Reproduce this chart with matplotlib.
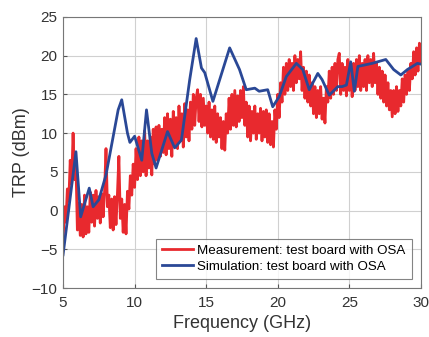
import numpy as np
import matplotlib
matplotlib.use('Agg')
import matplotlib.pyplot as plt

meas_trp = [
    -3.8, 0.5, -1.5, 2.8, 1.2, 6.5, 3.5, 10.0, 4.0, 6.0,
    -2.5, 1.0, -3.2, 0.8, -3.4, 2.0, -3.0, 0.5, -2.8, 2.4,
    -1.5, 2.0, -2.0, 2.6, -1.0, 1.8, -1.6, 2.2, -0.8, 2.5,
    8.0, 0.5, 2.0, -2.2, 1.5, -2.5, 1.8, -1.8, 2.2, 7.0,
    -1.0, 1.5, -2.8, 0.8, -3.0, 2.5, 0.2, 4.5, 2.0, 6.0,
    3.0, 8.0, 4.0, 9.5, 4.5, 9.0, 5.0, 10.3, 4.5, 9.0,
    5.5, 9.5, 4.6, 10.5, 6.0, 10.8, 6.5, 11.0, 7.0, 10.5,
    7.5, 12.0, 7.2, 12.5, 8.0, 11.8, 7.0, 12.8, 8.5, 12.0,
    8.0, 13.5, 9.0, 12.5, 8.2, 13.8, 9.5, 13.0, 9.0, 14.0,
    10.5, 15.0, 11.0, 14.5, 15.6, 11.5, 15.0, 10.8, 14.5, 11.0,
    13.5, 10.0, 14.0, 9.5, 13.0, 9.2, 13.5, 8.8, 12.5, 9.5,
    12.0, 8.0, 11.5, 7.8, 12.5, 10.0, 14.5, 10.5, 15.0, 11.0,
    15.5, 10.8, 14.8, 11.5, 15.5, 12.0, 16.0, 11.0, 14.0, 9.5,
    13.5, 9.0, 12.8, 10.0, 13.5, 9.2, 12.5, 10.0, 13.2, 9.0,
    12.8, 9.5, 13.0, 8.8, 12.5, 8.5, 11.5, 8.2, 13.0, 10.5,
    15.0, 12.0, 16.5, 14.0, 18.5, 15.0, 19.0, 15.5, 19.5, 16.0,
    19.0, 15.5, 20.0, 16.5, 19.5, 17.0, 20.5, 15.5, 18.5, 14.5,
    18.0, 14.0, 17.5, 13.5, 16.5, 12.5, 16.0, 12.0, 15.5, 12.5,
    16.0, 11.8, 14.5, 11.3, 16.0, 14.0, 18.0, 14.5, 18.5, 15.0,
    19.0, 15.5, 19.5, 20.3, 15.0, 19.0, 15.5, 18.5, 14.8, 19.5,
    15.5, 18.0, 14.7, 19.0, 15.5, 19.5, 16.0, 20.0, 15.5, 19.0,
    16.0, 19.5, 15.5, 20.0, 16.5, 19.5, 16.0, 20.3, 16.5, 19.0,
    15.0, 18.5, 14.5, 18.0, 14.0, 17.5, 13.5, 16.5, 13.0, 15.5,
    12.1, 15.5, 12.5, 16.0, 12.8, 15.5, 13.5, 17.0, 14.0, 17.5,
    15.0, 18.0, 15.5, 19.0, 17.0, 20.5, 17.5, 21.0, 18.0, 21.6,
    19.0,
]
meas_freq = np.linspace(5, 30, len(meas_trp))

# Simulated TRP
sim_freq = [5.0, 5.9, 6.23, 6.83, 7.1, 7.5, 8.0, 8.85, 9.1, 9.5,
            9.67, 10.0, 10.5, 10.83, 11.2, 11.5, 12.3, 12.8, 13.27, 13.85,
            14.3, 14.67, 14.9, 15.47, 16.64, 17.33, 17.8, 18.4, 18.7, 19.3,
            19.65, 20.1, 20.6, 21.3, 21.75, 22.2, 22.8, 23.1, 23.6, 24.2,
            24.5, 24.8, 25.1, 25.35, 25.6, 26.6, 27.55, 28.1, 28.6, 29.06,
            29.76, 30.0]
sim_trp = [-5.7, 7.6, -0.8, 2.9, 0.5, 1.4, 4.6, 13.0, 14.3, 10.0,
           8.8, 9.6, 6.5, 13.0, 7.4, 5.5, 10.2, 8.1, 9.1, 16.9,
           22.2, 18.4, 17.8, 14.1, 21.0, 18.2, 15.6, 15.8, 15.4, 15.6,
           13.4, 14.7, 17.3, 19.0, 18.2, 15.6, 17.7, 16.9, 14.9, 16.0,
           16.0, 16.2, 19.2, 15.4, 18.6, 19.0, 19.5, 18.2, 17.5, 18.2,
           19.0, 18.9]

xticks = [5, 10, 15, 20, 25, 30]
yticks = [-10, -5, 0, 5, 10, 15, 20, 25]

plt.rcParams['font.family'] = ['Liberation Sans', 'DejaVu Sans']

fig = plt.figure(figsize=(4.29, 3.37), dpi=100)
ax = fig.add_axes([0.147, 0.145, 0.834, 0.805])

ax.plot(meas_freq, meas_trp, color='#e8292e', lw=2.0,
        label='Measurement: test board with OSA')
ax.plot(sim_freq, sim_trp, color='#2a4896', lw=2.0,
        label='Simulation: test board with OSA')

ax.set_xlim(5, 30)
ax.set_ylim(-10, 25)
ax.set_xticks(xticks)
ax.set_yticks(yticks)
ax.grid(True, color='#d0d0d0', lw=0.8)
ax.set_axisbelow(True)
ax.tick_params(direction='in', length=3, colors='#555555', labelsize=11,
               labelcolor='#333333')
ax.tick_params(axis='x', pad=6)
ax.tick_params(axis='y', pad=4)
for s in ax.spines.values():
    s.set_color('#777777')
    s.set_linewidth(0.8)

ax.set_xlabel('Frequency (GHz)', fontsize=13, color='#333333', labelpad=3)
ax.set_ylabel('TRP (dBm)', fontsize=13, color='#333333', labelpad=1)

leg = ax.legend(loc='lower right', fontsize=9.6, frameon=True, fancybox=False,
                edgecolor='#666666', handlelength=2.3, handletextpad=0.35,
                borderaxespad=0.7, labelspacing=0.25, borderpad=0.45)
leg.get_frame().set_linewidth(0.8)

fig.savefig('out.png', dpi=100)
